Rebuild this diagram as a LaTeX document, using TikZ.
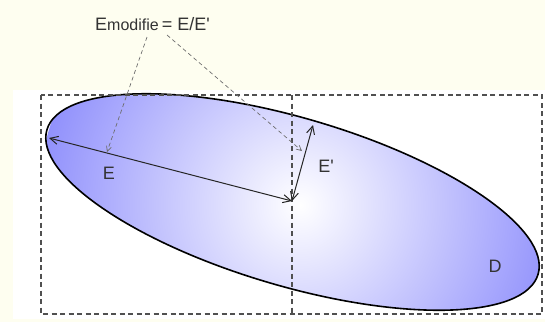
\documentclass[tikz,border=0pt]{standalone}
\usepackage{fontspec}
\setmainfont{Liberation Sans}[Ligatures=TeXOff]
\usetikzlibrary{arrows.meta}
\definecolor{cream}{RGB}{254,254,240}
\definecolor{outerblue}{RGB}{145,145,252}
\definecolor{boxgray}{RGB}{80,80,80}
\definecolor{annot}{RGB}{110,110,110}
\tikzset{
  dashbox/.style={draw=boxgray, line width=1.3pt, dash pattern=on 5pt off 3.5pt},
  annotline/.style={draw=annot, line width=0.7pt, dash pattern=on 4pt off 3pt, -{Straight Barb[length=5pt,width=5pt]}},
  measure/.style={draw=black!85, line width=1pt, {Straight Barb[length=8pt,width=8pt]}-{Straight Barb[length=8pt,width=8pt]}},
  lbl/.style={font=\fontsize{18}{20}\selectfont, inner sep=0pt, text=black!80}
}
\begin{document}
\begin{tikzpicture}[x=1pt,y=-1pt]
\useasboundingbox (0,0) rectangle (545,322);
\fill[cream] (0,0) rectangle (545,322);
\fill[white] (13,90) rectangle (545,319);
% coordinates
\coordinate (c) at (292,201);
\coordinate (eL) at (49,138);
\coordinate (eT) at (313,125);
\coordinate (tipE) at (107,152);
\coordinate (tipEp) at (302,151);
\coordinate (s1) at (147,37);
\coordinate (s2) at (167,35);
\coordinate (bTL) at (41,95);
\coordinate (bBR) at (542,314);
\coordinate (mT) at (292,95);
\coordinate (mB) at (292,314);
% ellipse with circular radial shading
\begin{scope}
  \clip[shift={(292.5,202)}, rotate=-16.4] (0,0) ellipse (256 and 84);
  \shade[inner color=white, outer color=outerblue] (300,205) circle (262);
\end{scope}
\draw[line width=1.6pt, shift={(292.5,202)}, rotate=-16.4] (0,0) ellipse (256 and 84);
% dashed boxes
\draw[dashbox] (bTL) rectangle (bBR);
\draw[dashbox] (mT) -- (mB);
% measures
\draw[measure] (eL) -- (c);
\draw[measure] (c) -- (eT);
% title
\node[anchor=base west, inner sep=0pt, text=black!80] (title) at (95,30)
  {\fontsize{18}{20}\selectfont E\fontsize{16}{18}\selectfont modifie\fontsize{18}{20}\selectfont\,= E/E'};
% annotation lines
\draw[annotline] (s1) -- (tipE);
\draw[annotline] (s2) -- (tipEp);
% labels
\node[lbl] (lE) at (109,173.5) {E};
\node[lbl] (lEp) at (326,166) {E'};
\node[lbl] (lD) at (495,266) {D};
\end{tikzpicture}
\end{document}
